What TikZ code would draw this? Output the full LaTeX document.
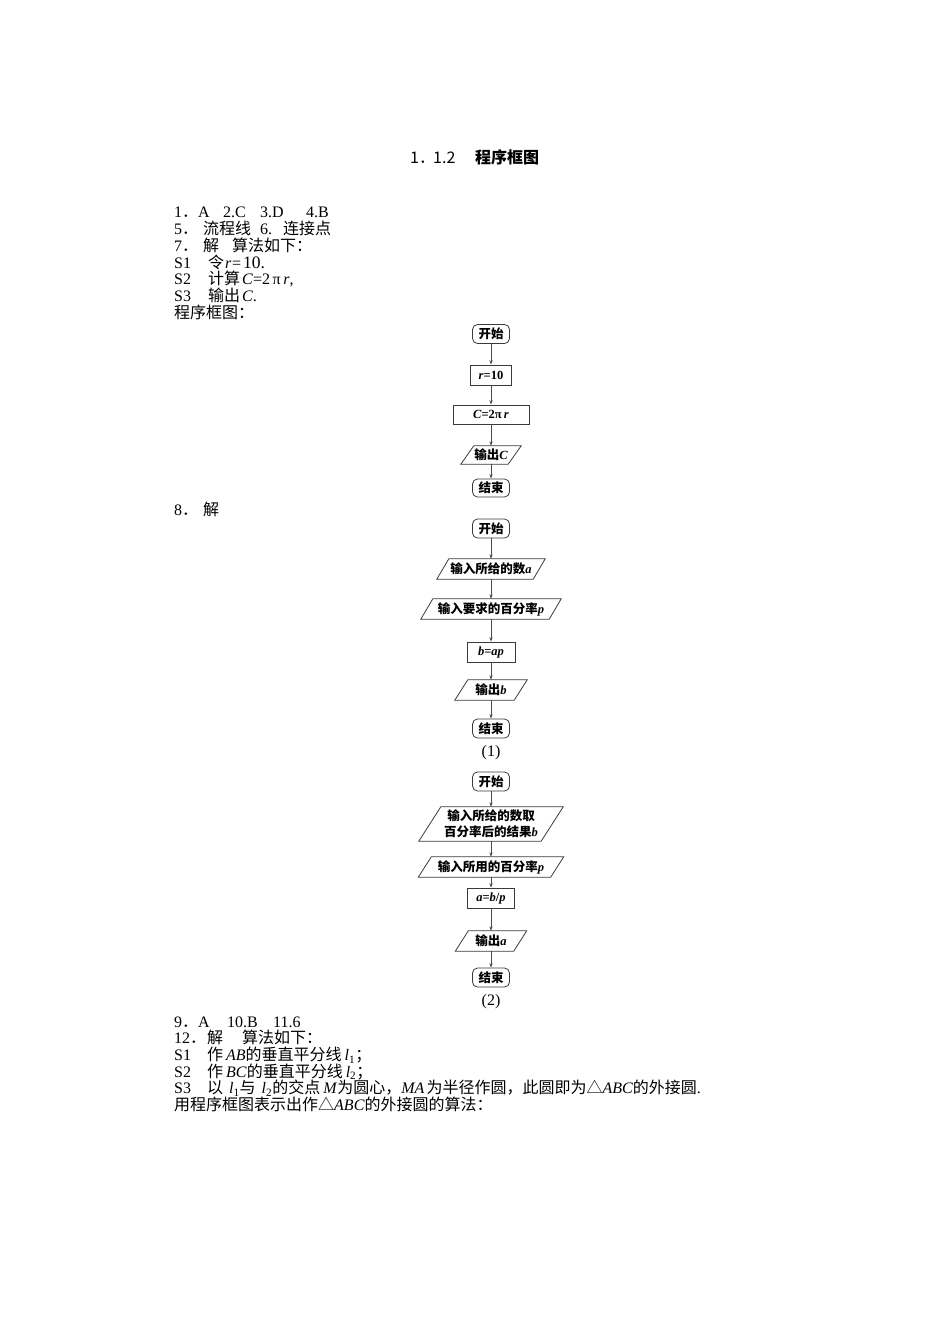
\documentclass[tikz,border=0pt]{standalone}
\usepackage{fontspec}
\setmainfont{Liberation Serif}
\newfontfamily\cjkf{Noto Sans CJK SC}
\newcommand\cj[1]{{\cjkf #1}}
\newcommand\bodyfont{\fontsize{16}{18}\selectfont}
\newcommand\boxfont{\fontsize{12.5}{16}\selectfont\bfseries}
\usetikzlibrary{arrows.meta}
\definecolor{boxc}{HTML}{3A3A3A}
\definecolor{arrc}{HTML}{4A4A4A}
\tikzset{
  term/.style={draw=boxc, line width=0.8pt, rounded corners=5pt, minimum width=37pt, minimum height=19pt, inner sep=0pt, font=\boxfont},
  proc/.style={draw=boxc, line width=0.8pt, minimum height=20pt, inner sep=0pt, font=\boxfont},
  iobox/.style={inner sep=0pt, minimum height=20pt, font=\boxfont},
  iodraw/.style={draw=boxc, line width=0.8pt, line join=miter},
  arr/.style={draw=arrc, line width=0.6pt, -{Stealth[length=4.5pt,width=3.2pt]}},
  txt/.style={anchor=base west, inner sep=0pt, font=\bodyfont},
  captxt/.style={inner sep=0pt, font=\bodyfont},
}
\begin{document}
\begin{tikzpicture}[x=1pt,y=-1pt]
\useasboundingbox (0,0) rectangle (950,1344);

% title
\node[anchor=base west, inner sep=0pt, font=\fontsize{16}{18}\selectfont\cjkf] (title) at (410,163)
  {\makebox[23pt][l]{1．}\makebox[42pt][l]{1.2}{\bfseries 程序框图}};

% section 1-7 text
\node[txt] (l1) at (174,217.6) {\makebox[24pt][l]{1\cj{．}}\makebox[25pt][l]{A}\makebox[37pt][l]{2.C}\makebox[46pt][l]{3.D}4.B};
\node[txt] (l2) at (174,234.4) {\makebox[29pt][l]{5\cj{．}}\makebox[57pt][l]{\cj{流程线}}\makebox[23pt][l]{6.}\cj{连接点}};
\node[txt] (l3) at (174,251.2) {\makebox[29pt][l]{7\cj{．}}\makebox[29pt][l]{\cj{解}}\cj{算法如下：}};
\node[txt] (l4) at (174,268.0) {\makebox[34pt][l]{S1}\makebox[17pt][l]{\cj{令}}\makebox[5pt][l]{\textit{r}}\makebox[13pt][c]{=}{\fontsize{17.5}{18}\selectfont 10.}};
\node[txt] (l5) at (174,284.8) {\makebox[34pt][l]{S2}\cj{计算}\hspace{2pt}\textit{C}=2\,π\,\textit{r},};
\node[txt] (l6) at (174,301.6) {\makebox[34pt][l]{S3}\cj{输出}\hspace{2pt}\textit{C}.};
\node[txt] (l7) at (174,318.4) {\cj{程序框图：}};

% flowchart for 7
\node[term] (a1) at (491,334) {\cj{开始}};
\node[proc, minimum width=41pt] (a2) at (491,375) {\textit{r}=10};
\node[proc, minimum width=76pt, minimum height=19pt] (a3) at (491,414.5) {\textit{C}=2π\,\textit{r}};
\node[iobox, minimum width=47pt, minimum height=18pt] (a4) at (491,455) {\cj{输出}\textit{C}};
\node[term, minimum height=18pt] (a5) at (491,488) {\cj{结束}};
\draw[arr] (a1) -- (a2);
\draw[arr] (a2) -- (a3);
\draw[arr] (a3) -- (a4);
\draw[arr] (a4) -- (a5);

% section 8
\node[txt] (l8) at (174,515.9) {\makebox[29pt][l]{8\cj{．}}\cj{解}};

\node[term] (b1) at (491,528.5) {\cj{开始}};
\node[iobox, minimum width=96pt] (b2) at (491,569) {\cj{输入所给的数}\textit{a}};
\node[iobox, minimum width=128pt] (b3) at (491,609) {\cj{输入要求的百分率}\textit{p}};
\node[proc, minimum width=48pt] (b4) at (491,652) {\textit{b}=\textit{ap}};
\node[iobox, minimum width=59pt] (b5) at (491,690) {\cj{输出}\textit{b}};
\node[term] (b6) at (491,728.5) {\cj{结束}};
\node[captxt] (cap1) at (491,753) {(1)};
\draw[arr] (b1) -- (b2);
\draw[arr] (b2) -- (b3);
\draw[arr] (b3) -- (b4);
\draw[arr] (b4) -- (b5);
\draw[arr] (b5) -- (b6);

\node[term] (c1) at (491,781.5) {\cj{开始}};
\node[iobox, minimum width=122pt, minimum height=34pt, align=center] (c2) at (491,824) {\cj{输入所给的数取}\\\cj{百分率后的结果}\textit{b}};
\node[iobox, minimum width=132pt] (c3) at (491,867) {\cj{输入所用的百分率}\textit{p}};
\node[proc, minimum width=47pt] (c4) at (491,898) {\textit{a}=\textit{b}/\textit{p}};
\node[iobox, minimum width=58pt] (c5) at (491,941) {\cj{输出}\textit{a}};
\node[term] (c6) at (491,977.5) {\cj{结束}};
\node[captxt] (cap2) at (491,1002) {(2)};
\draw[arr] (c1) -- (c2);
\draw[arr] (c2) -- (c3);
\draw[arr] (c3) -- (c4);
\draw[arr] (c4) -- (c5);
\draw[arr] (c5) -- (c6);

% parallelograms
\foreach \n/\h in {a4/6.5, b2/6, b3/6, b5/6.5, c2/11, c3/6.5, c5/6.5} {
  \draw[iodraw] ([xshift=-\h pt]\n.south west) -- ([xshift=\h pt]\n.north west)
     -- ([xshift=\h pt]\n.north east) -- ([xshift=-\h pt]\n.south east) -- cycle;
}

% section 9-12 text
\node[txt] (m1) at (174,1027.2) {\makebox[24pt][l]{9\cj{．}}\makebox[29pt][l]{A}\makebox[46pt][l]{10.B}11.6};
\node[txt] (m2) at (174,1043.9) {\makebox[33pt][l]{12\cj{．}}\makebox[35pt][l]{\cj{解}}\cj{算法如下：}};
\node[txt] (m3) at (174,1060.5) {\makebox[33pt][l]{S1}\cj{作}\hspace{3pt}\textit{AB}\cj{的垂直平分线}\hspace{3pt}\textit{l}\textsubscript{1}\cj{；}};
\node[txt] (m4) at (174,1077.2) {\makebox[33pt][l]{S2}\cj{作}\hspace{3pt}\textit{BC}\cj{的垂直平分线}\hspace{3pt}\textit{l}\textsubscript{2}\cj{；}};
\node[txt] (m5) at (174,1093.8) {\makebox[33pt][l]{S3}\cj{以}\hspace{6pt}\textit{l}\textsubscript{1}\cj{与}\hspace{6pt}\textit{l}\textsubscript{2}\cj{的交点}\hspace{3pt}\textit{M}\cj{为圆心，}\textit{MA}\hspace{2pt}\cj{为半径作圆，此圆即为△}\textit{ABC}\cj{的外接圆}.};
\node[txt] (m6) at (174,1110.5) {\cj{用程序框图表示出作△}\textit{ABC}\cj{的外接圆的算法：}};
\end{tikzpicture}
\end{document}
